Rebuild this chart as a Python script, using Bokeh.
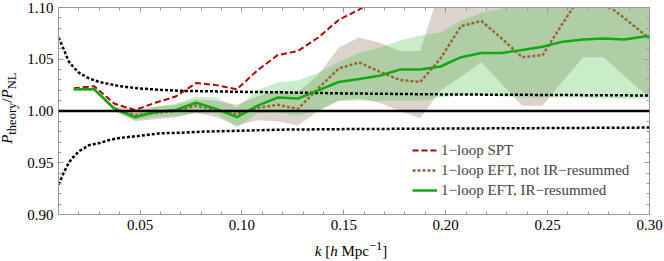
from bokeh.plotting import figure
from bokeh.models import (Range1d, FixedTicker, PrintfTickFormatter, LinearAxis,
                          Legend, LegendItem, Span, Div)
from bokeh.layouts import row, column
from bokeh.embed import file_html
from bokeh.resources import INLINE

# ---------------- data ----------------
k_bins = [0.0175, 0.0275, 0.0375, 0.0475, 0.0575, 0.0675, 0.0775, 0.0875, 0.0975, 0.1075,
          0.1175, 0.1275, 0.1375, 0.1475, 0.1575, 0.1675, 0.1775, 0.1875, 0.1975, 0.2075,
          0.2175, 0.2275, 0.2375, 0.2475, 0.2575, 0.2675, 0.2775, 0.2875, 0.2975, 0.3075]

spt = [1.022, 1.024, 1.007, 1.001, 1.008, 1.014, 1.027, 1.025, 1.021, 1.039,
       1.054, 1.058, 1.071, 1.088, 1.098, 1.110, 1.125, 1.140]

eft_noir = [1.021, 1.021, 1.002, 0.996, 0.998, 1.000, 1.005, 1.001, 0.997, 1.003,
            1.006, 1.002, 1.022, 1.041, 1.047, 1.038, 1.030, 1.028, 1.051, 1.082,
            1.087, 1.070, 1.052, 1.054, 1.085, 1.115, 1.105, 1.090, 1.074, 1.060]
eft_noir_hi = [1.0215, 1.022, 1.004, 1.002, 1.004, 1.006, 1.011, 1.010, 1.006, 1.014,
               1.020, 1.018, 1.035, 1.061, 1.071, 1.066, 1.058, 1.058, 1.120, 1.130,
               1.130, 1.130, 1.130, 1.130, 1.130, 1.130, 1.130, 1.130, 1.130, 1.130]
eft_noir_lo = [1.0205, 1.020, 1.000, 0.990, 0.992, 0.994, 0.998, 0.994, 0.986, 0.991,
               0.990, 0.986, 1.000, 1.010, 1.012, 1.008, 1.000, 0.993, 1.020, 1.033,
               1.047, 1.026, 1.005, 1.005, 1.029, 1.052, 1.052, 1.034, 1.017, 1.010]

eft_ir = [1.021, 1.021, 1.002, 0.994, 0.999, 1.001, 1.008, 1.002, 0.994, 1.005,
          1.013, 1.012, 1.020, 1.028, 1.031, 1.034, 1.040, 1.040, 1.043, 1.052,
          1.056, 1.056, 1.059, 1.062, 1.067, 1.069, 1.070, 1.069, 1.072, 1.073]
eft_ir_hi = [1.0215, 1.0218, 1.004, 0.997, 1.004, 1.007, 1.014, 1.013, 1.0034, 1.020,
             1.0275, 1.0295, 1.037, 1.047, 1.0565, 1.061, 1.068, 1.073, 1.076, 1.0875,
             1.095, 1.099, 1.115, 1.120, 1.120, 1.120, 1.120, 1.120, 1.120, 1.120]
eft_ir_lo = [1.0205, 1.0202, 1.000, 0.991, 0.994, 0.995, 0.998, 0.9976, 0.984, 0.9976,
             0.9986, 0.9957, 1.0005, 1.010, 1.010, 1.010, 1.010, 1.010, 1.013, 1.015,
             1.015, 1.014, 1.013, 1.013, 1.013, 1.013, 1.012, 1.012, 1.012, 1.012]

k_env = [0.010, 0.0125, 0.015, 0.0175, 0.020, 0.025, 0.030, 0.035, 0.040, 0.050,
         0.060, 0.070, 0.080, 0.100, 0.120, 0.150, 0.200, 0.250, 0.300]
env_hi = [1.071, 1.060, 1.048, 1.042, 1.037, 1.0315, 1.028, 1.026, 1.024, 1.0217,
          1.0205, 1.0195, 1.0192, 1.0185, 1.018, 1.017, 1.016, 1.0155, 1.015]
env_lo = [0.929, 0.940, 0.950, 0.956, 0.961, 0.967, 0.969, 0.972, 0.974, 0.976,
          0.9785, 0.979, 0.980, 0.981, 0.982, 0.9825, 0.983, 0.9835, 0.984]

x_ticks = [0.05, 0.10, 0.15, 0.20, 0.25, 0.30]
x_minor = [0.01, 0.02, 0.03, 0.04, 0.05, 0.06, 0.07, 0.08, 0.09, 0.10, 0.11, 0.12, 0.13, 0.14, 0.15,
           0.16, 0.17, 0.18, 0.19, 0.20, 0.21, 0.22, 0.23, 0.24, 0.25, 0.26, 0.27, 0.28, 0.29, 0.30]
y_ticks = [0.90, 0.95, 1.00, 1.05, 1.10]
y_minor = [0.90, 0.91, 0.92, 0.93, 0.94, 0.95, 0.96, 0.97, 0.98, 0.99, 1.00,
           1.01, 1.02, 1.03, 1.04, 1.05, 1.06, 1.07, 1.08, 1.09, 1.10]

labels = ["1\u2212loop SPT", "1\u2212loop EFT, not IR\u2212resummed", "1\u2212loop EFT, IR\u2212resummed"]
x_label_html = "<i>k</i> [<i>h</i> Mpc<sup>\u22121</sup>]"
y_label_html = "<i>P</i><sub>theory</sub>/<i>P</i><sub>NL</sub>"

# ---------------- styling ----------------
FONT = "Liberation Serif"
FRAME = "#9a9a9a"
YLAB_W = 20
XLAB_H = 23

p = figure(width=664 - YLAB_W, height=261 - XLAB_H,
           x_range=Range1d(0.01, 0.30), y_range=Range1d(0.90, 1.10),
           output_backend="svg", toolbar_location=None,
           min_border_left=38, min_border_right=15, min_border_top=7, min_border_bottom=24)
p.xgrid.visible = False
p.ygrid.visible = False
p.outline_line_color = FRAME
p.background_fill_color = "white"
p.border_fill_color = "white"


def style_axis(ax, ticks, minor, show_labels):
    ax.ticker = FixedTicker(ticks=ticks, minor_ticks=minor)
    ax.formatter = PrintfTickFormatter(format="%.2f")
    ax.axis_line_color = FRAME
    ax.major_tick_line_color = FRAME
    ax.minor_tick_line_color = FRAME
    ax.major_tick_in = 5
    ax.major_tick_out = 0
    ax.minor_tick_in = 3
    ax.minor_tick_out = 0
    ax.major_label_text_font = FONT
    ax.major_label_text_color = "black"
    ax.major_label_text_font_size = "15px"
    if show_labels:
        ax.major_label_standoff = 5
    else:
        ax.major_label_standoff = 0
        ax.major_label_overrides = {t: "" for t in ticks}


style_axis(p.xaxis[0], x_ticks, x_minor, True)
style_axis(p.yaxis[0], y_ticks, y_minor, True)
top_ax = LinearAxis()
right_ax = LinearAxis()
style_axis(top_ax, x_ticks, x_minor, False)
style_axis(right_ax, y_ticks, y_minor, False)
p.add_layout(top_ax, "above")
p.add_layout(right_ax, "right")

# bands
p.varea(x=k_bins, y1=eft_noir_lo, y2=eft_noir_hi, fill_color="#8a6e5a", fill_alpha=0.3)
p.varea(x=k_bins, y1=eft_ir_lo, y2=eft_ir_hi, fill_color="#4cc24c", fill_alpha=0.3)

# reference line at unity
p.add_layout(Span(location=1.0, dimension="width", line_color="black", line_width=2.5))

# envelopes
p.line(k_env, env_hi, line_color="black", line_width=2.5, line_dash="3 2")
p.line(k_env, env_lo, line_color="black", line_width=2.5, line_dash="3 2")

r_spt = p.line(k_bins[:len(spt)], spt, line_color="#b40000", line_width=2, line_dash="6 3")
r_noir = p.line(k_bins, eft_noir, line_color="#9c6536", line_width=2.5, line_dash="3 2")
r_ir = p.line(k_bins, eft_ir, line_color="#12a812", line_width=2.5)

legend = Legend(items=[LegendItem(label=labels[0], renderers=[r_spt]),
                       LegendItem(label=labels[1], renderers=[r_noir]),
                       LegendItem(label=labels[2], renderers=[r_ir])],
                location=(354, 15))
legend.label_text_font = FONT
legend.label_text_font_size = "15px"
legend.glyph_width = 25
legend.glyph_height = 18
legend.label_height = 18
legend.spacing = 2
legend.padding = 0
legend.margin = 0
legend.label_standoff = 4
legend.border_line_alpha = 0
legend.background_fill_alpha = 0
p.add_layout(legend)

# axis labels as rich text (italics, sub/superscripts)
ylab = Div(
    text=('<div style="width:%dpx;height:216px;display:flex;align-items:center;'
          'justify-content:center;">'
          '<span style="display:inline-block;transform:rotate(-90deg);white-space:nowrap;'
          "font-family:'Liberation Serif';font-size:15px;color:black;line-height:1;\">%s</span>"
          '</div>') % (YLAB_W, y_label_html),
    width=YLAB_W, height=261, margin=0)

xlab = Div(
    text=('<div style="box-sizing:border-box;width:%dpx;padding-left:18px;text-align:center;'
          "font-family:'Liberation Serif';font-size:15px;color:black;line-height:16px;"
          'white-space:nowrap;">%s</div>') % (664 - YLAB_W, x_label_html),
    width=664 - YLAB_W, height=XLAB_H, margin=0)

layout = row(ylab, column(p, xlab, spacing=0, margin=0), spacing=0, margin=0)

open("out.html", "w").write(file_html(layout, INLINE))
